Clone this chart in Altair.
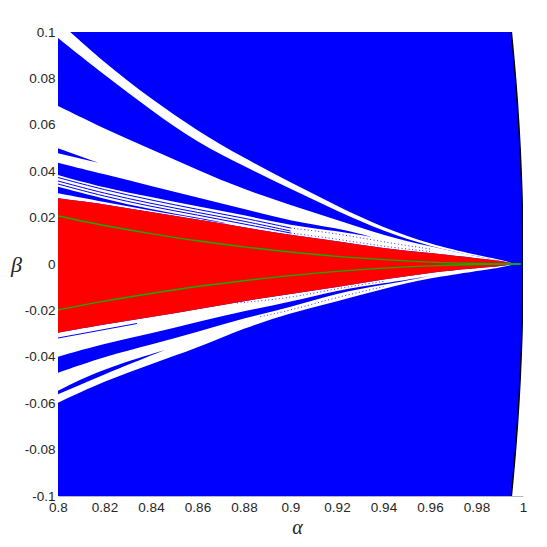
import altair as alt
import pandas as pd

# ---------------- axis ticks ----------------
X_TICKS = [0.8, 0.82, 0.84, 0.86, 0.88, 0.9, 0.92, 0.94, 0.96, 0.98, 1.0]
Y_TICKS = [-0.1, -0.08, -0.06, -0.04, -0.02, 0.0, 0.02, 0.04, 0.06, 0.08, 0.1]

# ---------------- right boundary (black curve) ----------------
EDGE_BETA = [-0.10, -0.09, -0.08, -0.07, -0.06, -0.05, -0.04, -0.03, -0.02, -0.01, 0.0,
             0.01, 0.02, 0.03, 0.04, 0.05, 0.06, 0.07, 0.08, 0.09, 0.10]
EDGE_ALPHA = [0.99499, 0.99594, 0.99679, 0.99755, 0.99820, 0.99875, 0.99920, 0.99955, 0.99980, 0.99995, 1.0,
              0.99995, 0.99980, 0.99955, 0.99920, 0.99875, 0.99820, 0.99755, 0.99679, 0.99594, 0.99499]

# ---------------- common alpha grid ----------------
ALPHA = [0.80, 0.82, 0.84, 0.86, 0.88, 0.90, 0.92, 0.94, 0.96, 0.98, 0.99, 0.9966]

# red wedge
RED_TOP = [0.02832, 0.02586, 0.02241, 0.01918, 0.01582, 0.01250, 0.00991, 0.00668, 0.00474, 0.00259, 0.00138, 0.0]
RED_BOT = [-0.02961, -0.02599, -0.02284, -0.01961, -0.01595, -0.01293, -0.00991, -0.00668, -0.00366, -0.00172, -0.00095, 0.0]

# white regions (upper)
STRIPE_TOP = [0.10474, 0.08664, 0.07112, 0.05733, 0.04569, 0.03513, 0.02500, 0.01552, 0.00862, 0.00388, 0.00194, 0.0]
STRIPE_BOT = [0.09741, 0.08147, 0.06638, 0.05216, 0.04224, 0.03233, 0.02284, 0.01401, 0.00754, 0.00323, 0.00151, 0.0]
GAP_TOP = [0.06810, 0.05823, 0.04957, 0.04052, 0.03211, 0.02543, 0.01897, 0.01228, 0.00754, 0.00323, 0.00151, 0.0]
# white region (lower): from RED_BOT down to LOW_WHITE_BOT
LOW_WHITE_BOT = [-0.05978, -0.05043, -0.04310, -0.03621, -0.02759, -0.02112, -0.01616, -0.01056, -0.00603, -0.00302, -0.00172, 0.0]

# blue bands lying inside the white regions
E_ALPHA = [0.80, 0.82, 0.84, 0.86, 0.88, 0.90, 0.92, 0.935]
E_TOP = [0.04366, 0.03866, 0.03362, 0.02862, 0.02371, 0.01853, 0.01552, 0.01164]
E_BOT = [0.03836, 0.03284, 0.02888, 0.02478, 0.02112, 0.01659, 0.01422, 0.01164]

F_ALPHA = [0.80, 0.82, 0.84, 0.86, 0.875]
F_TOP = [0.03332, 0.02802, 0.02358, 0.02004, 0.01700]
F_BOT = [0.03047, 0.02672, 0.02293, 0.01961, 0.01700]

D_ALPHA = [0.80, 0.8173]
D_TOP = [0.04987, 0.04366]
D_BOT = [0.04772, 0.04366]

G_ALPHA = [0.80, 0.82, 0.84, 0.86, 0.88, 0.90, 0.92, 0.94, 0.96]
G_TOP = [-0.03996, -0.03427, -0.02996, -0.02500, -0.02026, -0.01638, -0.01121, -0.00841, -0.00517]
G_BOT = [-0.04685, -0.03987, -0.03470, -0.02931, -0.02328, -0.01875, -0.01250, -0.00905, -0.00517]

H_ALPHA = [0.80, 0.8181, 0.8460]
H_TOP = [-0.05461, -0.04569, -0.03707]
H_BOT = [-0.05616, -0.04828, -0.03707]

# thin blue lines (upper), solid part then dotted part
L_ALPHA = [0.80, 0.82, 0.84, 0.86, 0.88, 0.90, 0.92, 0.94, 0.96]
L1 = [0.03728, 0.03190, 0.02759, 0.02349, 0.01983, 0.01552, 0.01315, 0.00948, 0.00647]
L2 = [0.03578, 0.03039, 0.02608, 0.02220, 0.01853, 0.01422, 0.01185, 0.00841, 0.00582]
L3 = [0.03448, 0.02909, 0.02478, 0.02112, 0.01724, 0.01336, 0.01078, 0.00754, 0.00539]

# thin blue lines (lower)
LL1_ALPHA = [0.80, 0.834]
LL1 = [-0.03190, -0.02565]
LD1_ALPHA = [0.877, 0.90, 0.92, 0.94]
LD1 = [-0.01681, -0.01470, -0.01050, -0.00750]
LD2_ALPHA = [0.887, 0.90, 0.92, 0.94]
LD2 = [-0.02272, -0.02000, -0.01430, -0.00980]

# green curves
GREEN_ALPHA = [0.80, 0.82, 0.84, 0.86, 0.88, 0.90, 0.92, 0.94, 0.96, 0.98, 0.999]
GREEN_UP = [0.0207, 0.0166, 0.0131, 0.0100, 0.0074, 0.0052, 0.0033, 0.0019, 0.0008, 0.0002, 0.0]
GREEN_DN = [-0.0198, -0.0160, -0.0127, -0.0097, -0.0072, -0.0050, -0.0032, -0.0018, -0.0008, -0.0002, 0.0]

BLUE = "#0000ff"
RED = "#ff0000"
GREEN = "#10b000"


def band(name, a, top, bot):
    return pd.DataFrame({"band": name, "a": a, "top": top, "bot": bot})


def line(name, a, b):
    return pd.DataFrame({"line": name, "a": a, "b": b, "i": list(range(len(a)))})


xs = alt.Scale(domain=[0.8, 1.0], nice=False, zero=False)
ys = alt.Scale(domain=[-0.1, 0.1], nice=False, zero=False)

label_expr = "datum.value < 0 ? '-' + format(-datum.value, '~g') : format(datum.value, '~g')"

x_axis = alt.Axis(values=X_TICKS, labelExpr=label_expr, title="α",
                  titleFont="Liberation Serif", titleFontStyle="italic", titleFontWeight="normal",
                  titleFontSize=20, titleColor="#222222", titleX=239, titleY=31,
                  titleBaseline="middle", titleAlign="center",
                  labelFont="Liberation Sans", labelFontSize=13.5, labelColor="#262626",
                  labelPadding=4, ticks=False, grid=False, domainColor="#b8b8b8",
                  labelFlush=False, labelOverlap=False)
y_axis = alt.Axis(values=Y_TICKS, labelExpr=label_expr, title="β",
                  titleFont="Liberation Serif", titleFontStyle="italic", titleFontWeight="normal",
                  titleFontSize=22, titleColor="#222222", titleAngle=0, titleX=-42, titleY=232,
                  titleBaseline="middle", titleAlign="center",
                  labelFont="Liberation Sans", labelFontSize=13.5, labelColor="#262626",
                  labelPadding=3, ticks=False, grid=False, domain=False,
                  labelFlush=False, labelOverlap=False)


def X(field):
    return alt.X(field, scale=xs, axis=x_axis)


def Y(field):
    return alt.Y(field, scale=ys, axis=y_axis)


# blue background region bounded on the right by the black curve
bg_df = pd.DataFrame({"b": EDGE_BETA, "a0": [0.8] * len(EDGE_BETA), "a1": EDGE_ALPHA})
blue_bg = alt.Chart(bg_df).mark_area(orient="horizontal", color=BLUE, clip=True).encode(
    y=Y("b:Q"),
    x=X("a0:Q"),
    x2="a1:Q",
)

white_df = pd.concat([
    band("stripe", ALPHA, STRIPE_TOP, STRIPE_BOT),
    band("gap", ALPHA, GAP_TOP, RED_TOP),
    band("low", ALPHA, RED_BOT, LOW_WHITE_BOT),
])
whites = alt.Chart(white_df).mark_area(color="white", clip=True, interpolate="basis").encode(
    x=X("a:Q"), y=Y("top:Q"), y2="bot:Q", detail="band:N",
)

blue_df = pd.concat([
    band("E", E_ALPHA, E_TOP, E_BOT),
    band("F", F_ALPHA, F_TOP, F_BOT),
    band("D", D_ALPHA, D_TOP, D_BOT),
    band("G", G_ALPHA, G_TOP, G_BOT),
    band("H", H_ALPHA, H_TOP, H_BOT),
])
blues = alt.Chart(blue_df).mark_area(color=BLUE, clip=True, interpolate="basis").encode(
    x=X("a:Q"), y=Y("top:Q"), y2="bot:Q", detail="band:N",
)

solid_lines = pd.concat([
    line("L1", L_ALPHA[:6], L1[:6]),
    line("L2", L_ALPHA[:6], L2[:6]),
    line("L3", L_ALPHA[:6], L3[:6]),
    line("LL1", LL1_ALPHA, LL1),
])
dotted_lines = pd.concat([
    line("L1", L_ALPHA[5:], L1[5:]),
    line("L3", L_ALPHA[5:], L3[5:]),
    line("LD1", LD1_ALPHA, LD1),
    line("LD2", LD2_ALPHA, LD2),
])
thin = alt.Chart(solid_lines).mark_line(color=BLUE, strokeWidth=1, clip=True, interpolate="basis").encode(
    x=X("a:Q"), y=Y("b:Q"), detail="line:N",
)
dotted = alt.Chart(dotted_lines).mark_line(color=BLUE, strokeWidth=1, strokeDash=[1, 2.5], opacity=0.8,
                                           clip=True, interpolate="basis").encode(
    x=X("a:Q"), y=Y("b:Q"), detail="line:N",
)

red_df = pd.DataFrame({"a": ALPHA, "top": RED_TOP, "bot": RED_BOT})
red = alt.Chart(red_df).mark_area(color=RED, clip=True, interpolate="basis").encode(
    x=X("a:Q"), y=Y("top:Q"), y2="bot:Q",
)

green_df = pd.concat([
    line("up", GREEN_ALPHA, GREEN_UP),
    line("dn", GREEN_ALPHA, GREEN_DN),
])
green = alt.Chart(green_df).mark_line(color=GREEN, strokeWidth=1.4, clip=True, interpolate="monotone").encode(
    x=X("a:Q"), y=Y("b:Q"), detail="line:N",
)

edge_df = pd.DataFrame({"a": EDGE_ALPHA, "b": EDGE_BETA, "i": list(range(len(EDGE_BETA)))})
edge = alt.Chart(edge_df).mark_line(color="black", strokeWidth=1.5, clip=True).encode(
    x=X("a:Q"), y=Y("b:Q"), order="i:Q",
)

chart = alt.layer(blue_bg, whites, blues, thin, dotted, red, green, edge).properties(
    width=465,
    height=464,
    autosize=alt.AutoSizeParams(type="none"),
    padding={"left": 50, "top": 24, "right": 16, "bottom": 43},
).configure_view(strokeWidth=0)

chart.save("out.html", embed_options={"renderer": "svg", "actions": False})
